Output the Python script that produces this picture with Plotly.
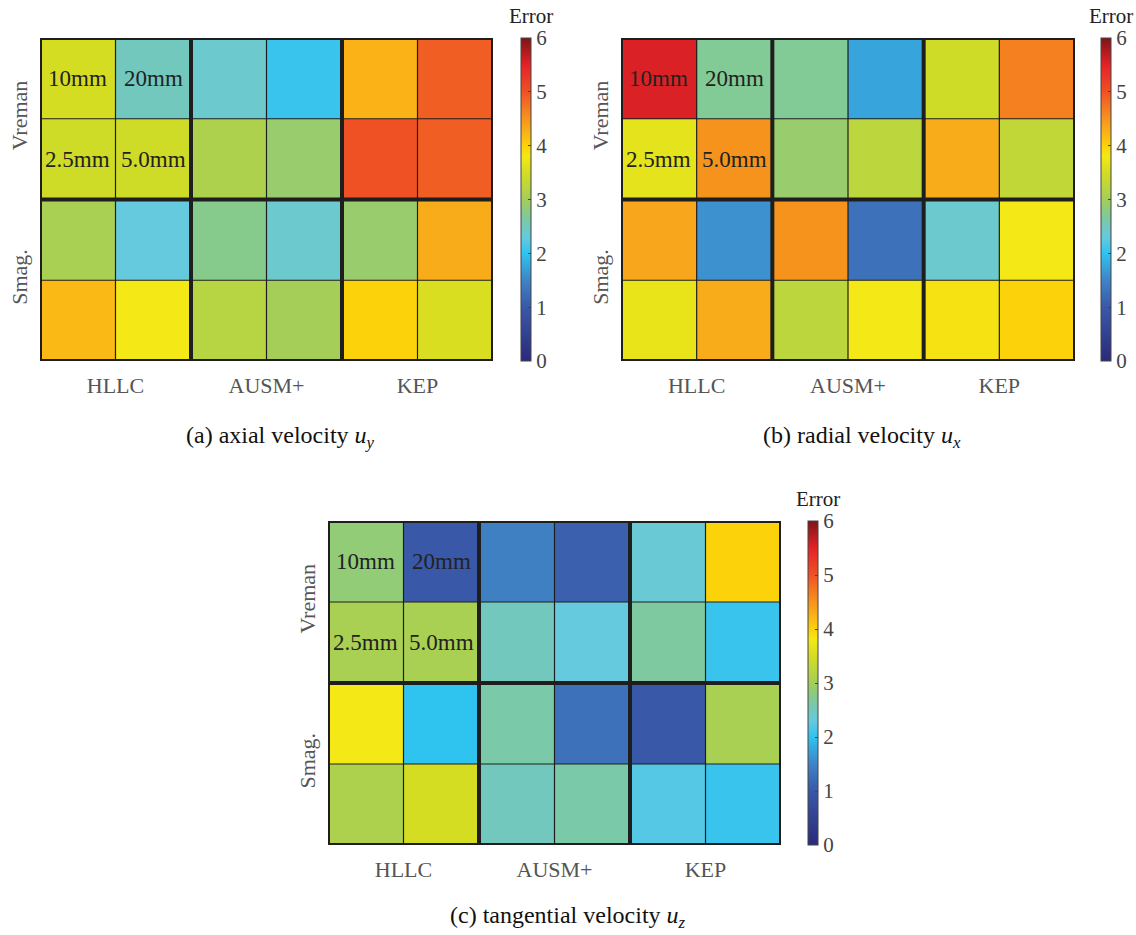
import plotly.graph_objects as go

W, H = 1136, 935

schemes = ["HLLC", "AUSM+", "KEP"]
models = ["Vreman", "Smag."]
mesh_labels = [["10mm", "20mm"], ["2.5mm", "5.0mm"]]

# rows: Vreman (10/20mm), Vreman (2.5/5.0mm), Smag. (10/20mm), Smag. (2.5/5.0mm)
# cols: HLLC (2), AUSM+ (2), KEP (2)
err_axial = [
    [3.50, 2.50, 2.40, 2.05, 4.25, 4.90],
    [3.45, 3.45, 3.10, 2.90, 5.00, 4.90],
    [3.05, 2.30, 2.75, 2.40, 2.90, 4.30],
    [4.20, 3.80, 3.20, 3.00, 4.00, 3.55],
]
err_radial = [
    [5.55, 2.70, 2.70, 1.75, 3.45, 4.65],
    [3.65, 4.50, 2.90, 3.25, 4.30, 3.30],
    [4.35, 1.60, 4.50, 1.30, 2.40, 3.80],
    [3.70, 4.30, 3.25, 3.80, 3.85, 4.00],
]
err_tangential = [
    [2.85, 1.00, 1.45, 1.10, 2.35, 4.00],
    [3.05, 3.05, 2.50, 2.30, 2.65, 2.05],
    [3.80, 2.00, 2.60, 1.30, 1.00, 3.05],
    [3.10, 3.50, 2.50, 2.60, 2.20, 2.05],
]
captions = [
    "(a) axial velocity <i>u</i><sub><i>y</i></sub>",
    "(b) radial velocity <i>u</i><sub><i>x</i></sub>",
    "(c) tangential velocity <i>u</i><sub><i>z</i></sub>",
]
cb_ticks = [0, 1, 2, 3, 4, 5, 6]

colorscale = [
    [0.0, "#2a2a7a"],
    [1.0 / 6, "#3a58a8"],
    [1.5 / 6, "#3f84c6"],
    [2.0 / 6, "#2fc3f0"],
    [2.3 / 6, "#66cade"],
    [2.5 / 6, "#72c8bc"],
    [2.75 / 6, "#86ca8c"],
    [3.0 / 6, "#a4ce58"],
    [3.5 / 6, "#d4dd22"],
    [3.8 / 6, "#f4e816"],
    [4.0 / 6, "#fcd20a"],
    [4.3 / 6, "#f9ac1a"],
    [4.6 / 6, "#f5871f"],
    [5.0 / 6, "#ef5124"],
    [5.5 / 6, "#e42228"],
    [1.0, "#7e1416"],
]

FONT = "Liberation Serif"

# pixel boxes of each panel: (left, top, right, bottom), colorbar left, caption centre
panels = [
    dict(box=(40, 38, 493, 361), cb_x=521, cap=(280, 437)),
    dict(box=(621, 38, 1075, 361), cb_x=1101, cap=(862, 437)),
    dict(box=(328, 521, 781, 845), cb_x=808, cap=(568, 917)),
]
data = [err_axial, err_radial, err_tangential]

fig = go.Figure()
layout = dict(
    width=W, height=H, margin=dict(l=0, r=0, t=0, b=0),
    paper_bgcolor="white", plot_bgcolor="white",
    font=dict(family=FONT, size=20, color="#444"),
    shapes=[], annotations=[],
)

ncol, nrow = 6, 4
for i, (p, z) in enumerate(zip(panels, data)):
    l, t, r, b = p["box"]
    sfx = "" if i == 0 else str(i + 1)
    xa, ya = "x" + sfx, "y" + sfx
    fig.add_trace(go.Heatmap(
        z=z, x=list(range(ncol)), y=list(range(nrow)),
        xaxis=xa, yaxis=ya,
        colorscale=colorscale, zmin=0, zmax=6,
        hoverinfo="skip",
        colorbar=dict(
            x=p["cb_x"] / W, xanchor="left", xpad=0,
            y=1 - t / H, yanchor="top", ypad=0,
            len=(b - t) / H, lenmode="fraction",
            thickness=10, thicknessmode="pixels",
            outlinewidth=1, outlinecolor="#444",
            tickvals=cb_ticks, ticks="inside", ticklen=3,
            tickcolor="#444", tickwidth=1,
            tickfont=dict(family=FONT, size=21, color="#444"),
        ),
    ))
    layout["xaxis" + sfx] = dict(
        domain=[l / W, r / W], range=[-0.5, ncol - 0.5], anchor=ya,
        tickvals=[0.5, 2.5, 4.5], ticktext=schemes,
        ticks="outside", ticklen=5, tickcolor="rgba(0,0,0,0)",
        showgrid=False, zeroline=False, showline=False,
        tickfont=dict(family=FONT, size=22, color="#555"),
    )
    layout["yaxis" + sfx] = dict(
        domain=[1 - b / H, 1 - t / H], range=[nrow - 0.5, -0.5], anchor=xa,
        tickvals=[0.5, 2.5], ticktext=models, tickangle=-90,
        ticks="outside", ticklen=3, tickcolor="rgba(0,0,0,0)",
        showgrid=False, zeroline=False, showline=False,
        tickfont=dict(family=FONT, size=22, color="#555"),
    )
    # thin cell borders and thick group borders
    for xv in [k - 0.5 for k in range(ncol + 1)]:
        thick = xv in (-0.5, 1.5, 3.5, 5.5)
        layout["shapes"].append(dict(
            type="line", xref=xa, yref=ya, x0=xv, x1=xv, y0=-0.5, y1=nrow - 0.5,
            line=dict(color="#1e1e1e", width=4 if thick else 1.2)))
    for yv in [k - 0.5 for k in range(nrow + 1)]:
        thick = yv in (-0.5, 1.5, 3.5)
        layout["shapes"].append(dict(
            type="line", xref=xa, yref=ya, x0=-0.5, x1=ncol - 0.5, y0=yv, y1=yv,
            line=dict(color="#1e1e1e", width=4 if thick else 1.2)))
    # mesh-size labels in the first block
    for ri in range(2):
        for ci in range(2):
            layout["annotations"].append(dict(
                x=ci, y=ri, xref=xa, yref=ya, text=mesh_labels[ri][ci],
                showarrow=False, font=dict(family=FONT, size=23, color="#222")))
    # colorbar title
    layout["annotations"].append(dict(
        x=(p["cb_x"] + 10) / W, y=1 - (t - 8) / H, xref="paper", yref="paper",
        text="Error", showarrow=False, xanchor="center", yanchor="bottom",
        font=dict(family=FONT, size=21, color="#222")))
    # caption
    cx, cy = p["cap"]
    layout["annotations"].append(dict(
        x=cx / W, y=1 - cy / H, xref="paper", yref="paper",
        text=captions[i], showarrow=False, xanchor="center", yanchor="middle",
        font=dict(family=FONT, size=24, color="#111")))

fig.update_layout(**layout)
fig.write_html("out.html")
